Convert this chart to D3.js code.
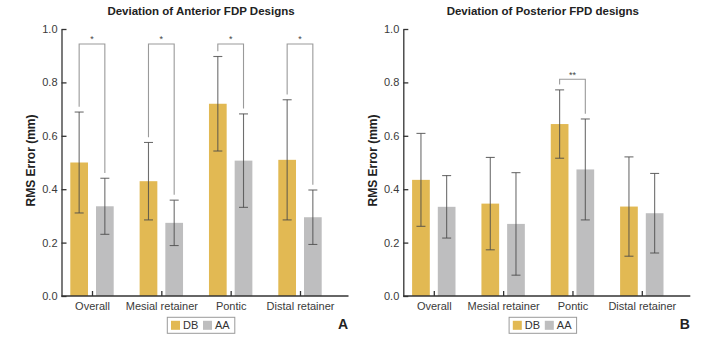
<!DOCTYPE html>
<html>
<head>
<meta charset="utf-8">
<script src="https://cdn.jsdelivr.net/npm/d3@7/dist/d3.min.js"></script>
<style>
  html, body { margin: 0; padding: 0; background: #fff; }
  svg { display: block; font-family: "Liberation Sans", Arial, Helvetica, sans-serif; }
</style>
</head>
<body>
<svg id="chart" width="720" height="343"></svg>
<script>
// Categories and series
const categories = ["Overall", "Mesial retainer", "Pontic", "Distal retainer"];
const seriesNames = ["DB", "AA"];
const yTicks = [0.0, 0.2, 0.4, 0.6, 0.8, 1.0];

// Panel A: anterior FDP designs (mean RMS error and SD, mm)
const anteriorDB = [0.50, 0.43, 0.72, 0.51];
const anteriorDBsd = [0.189, 0.145, 0.177, 0.225];
const anteriorAA = [0.336, 0.274, 0.507, 0.295];
const anteriorAAsd = [0.105, 0.085, 0.175, 0.102];
const anteriorSig = [
  { category: "Overall", label: "*", top: 0.944 },
  { category: "Mesial retainer", label: "*", top: 0.944 },
  { category: "Pontic", label: "*", top: 0.944 },
  { category: "Distal retainer", label: "*", top: 0.944 }
];

// Panel B: posterior FPD designs
const posteriorDB = [0.435, 0.346, 0.644, 0.335];
const posteriorDBsd = [0.174, 0.173, 0.128, 0.186];
const posteriorAA = [0.334, 0.270, 0.474, 0.310];
const posteriorAAsd = [0.117, 0.192, 0.189, 0.149];
const posteriorSig = [
  { category: "Pontic", label: "**", top: 0.812 }
];

const colors = { DB: "#E2B953", AA: "#BEBEBF" };

const svg = d3.select("#chart");

function drawPanel(opts) {
  const g = svg.append("g").attr("transform", `translate(${opts.left},0)`);
  const plotW = 287;
  const y = d3.scaleLinear().domain([0, 1]).range([296, 29]);
  const x = d3.scalePoint().domain(categories).range([30.5, 238.5]);
  const xs = d3.scaleBand().domain(seriesNames).range([-21.7, 21.7]).paddingInner(0.311);

  // bars
  const rows = [];
  categories.forEach((c, i) => {
    rows.push({ c, s: "DB", v: opts.db[i], sd: opts.dbsd[i] });
    rows.push({ c, s: "AA", v: opts.aa[i], sd: opts.aasd[i] });
  });

  g.selectAll("rect.bar").data(rows).enter().append("rect")
    .attr("class", "bar")
    .attr("x", d => x(d.c) + xs(d.s))
    .attr("width", xs.bandwidth())
    .attr("y", d => y(d.v))
    .attr("height", d => y(0) - y(d.v))
    .attr("fill", d => colors[d.s]);

  // error bars
  const cap = 4.5;
  const eb = g.selectAll("g.err").data(rows).enter().append("g")
    .attr("class", "err")
    .attr("stroke", "#4a4a4a").attr("stroke-opacity", 0.8).attr("stroke-width", 1.1)
    .attr("transform", d => `translate(${x(d.c) + xs(d.s) + xs.bandwidth() / 2},0)`);
  eb.append("line").attr("x1", 0).attr("x2", 0)
    .attr("y1", d => y(d.v - d.sd)).attr("y2", d => y(d.v + d.sd));
  eb.append("line").attr("x1", -cap).attr("x2", cap)
    .attr("y1", d => y(d.v + d.sd)).attr("y2", d => y(d.v + d.sd));
  eb.append("line").attr("x1", -cap).attr("x2", cap)
    .attr("y1", d => y(d.v - d.sd)).attr("y2", d => y(d.v - d.sd));

  // significance brackets
  opts.sig.forEach(s => {
    const i = categories.indexOf(s.category);
    const xl = x(s.category) + xs("DB") + xs.bandwidth() / 2;
    const xr = x(s.category) + xs("AA") + xs.bandwidth() / 2;
    const bl = opts.db[i] + opts.dbsd[i] + 0.02;
    const br = opts.aa[i] + opts.aasd[i] + 0.02;
    g.append("path")
      .attr("d", `M${xl},${y(bl)}V${y(s.top)}H${xr}V${y(br)}`)
      .attr("fill", "none").attr("stroke", "#9a9a9a").attr("stroke-width", 1.1);
    g.append("text")
      .attr("x", (xl + xr) / 2).attr("y", y(s.top) - 1.5)
      .attr("text-anchor", "middle")
      .attr("font-size", 9).attr("fill", "#444")
      .text(s.label);
  });

  // axes
  const yAxis = d3.axisLeft(y).tickValues(yTicks).tickFormat(d3.format(".1f"))
    .tickSizeInner(-5).tickSizeOuter(0).tickPadding(4);
  const ya = g.append("g").call(yAxis);
  const xAxis = d3.axisBottom(x).tickSizeInner(-5).tickSizeOuter(0).tickPadding(6);
  const xa = g.append("g").attr("transform", `translate(0,${y(0)})`).call(xAxis);
  xa.select(".domain").attr("d", `M0,0H${plotW}`);
  [ya, xa].forEach(a => {
    a.select(".domain").attr("stroke", "#333").attr("stroke-width", 1.3);
    a.selectAll(".tick line").attr("stroke", "#333").attr("stroke-width", 1.3);
    a.selectAll(".tick text").attr("font-size", 11).attr("fill", "#3a3a3a")
      .attr("font-family", "'Liberation Sans', Arial, sans-serif");
  });

  // titles
  g.append("text").attr("x", 139.5).attr("y", 15)
    .attr("text-anchor", "middle").attr("font-weight", "bold")
    .attr("font-size", 11.5).attr("fill", "#222").text(opts.title);
  g.append("text")
    .attr("transform", `translate(-26.5,160.5) rotate(-90)`)
    .attr("text-anchor", "middle").attr("font-weight", "bold")
    .attr("font-size", 12).attr("fill", "#222").text("RMS Error (mm)");

  // legend
  const lg = g.append("g").attr("transform", "translate(105.8,317.3)");
  lg.append("rect").attr("width", 67.5).attr("height", 16)
    .attr("fill", "#fff").attr("stroke", "#9a9a9a").attr("stroke-width", 1);
  const items = lg.selectAll("g.item").data(seriesNames).enter().append("g")
    .attr("class", "item")
    .attr("transform", (d, i) => `translate(${3.7 + i * 32},0)`);
  items.append("rect").attr("y", 3.5).attr("width", 9).attr("height", 9)
    .attr("fill", d => colors[d]);
  items.append("text").attr("x", 12).attr("y", 12.2)
    .attr("font-size", 11).attr("fill", "#333").text(d => d);

  // panel letter
  g.append("text").attr("x", 276.5).attr("y", 328.7)
    .attr("font-weight", "bold").attr("font-size", 14).attr("fill", "#222")
    .text(opts.letter);
}

drawPanel({
  left: 61.5, title: "Deviation of Anterior FDP Designs", letter: "A",
  db: anteriorDB, dbsd: anteriorDBsd, aa: anteriorAA, aasd: anteriorAAsd, sig: anteriorSig
});
drawPanel({
  left: 403.3, title: "Deviation of Posterior FPD designs", letter: "B",
  db: posteriorDB, dbsd: posteriorDBsd, aa: posteriorAA, aasd: posteriorAAsd, sig: posteriorSig
});
</script>
</body>
</html>
